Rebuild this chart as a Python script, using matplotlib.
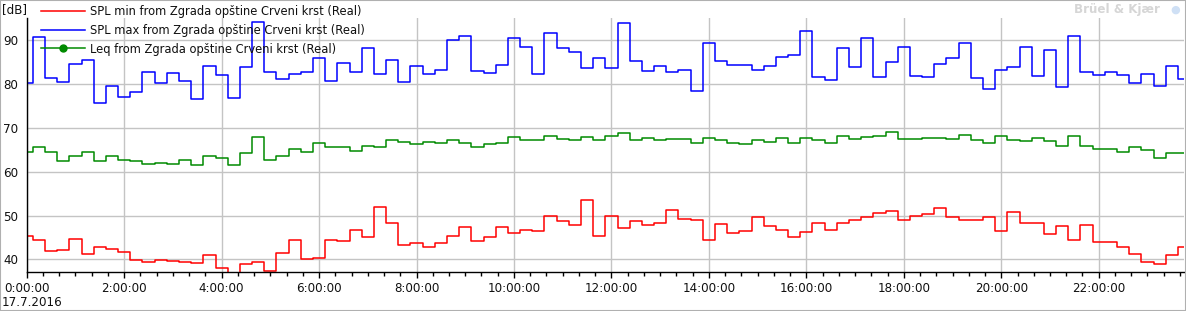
import numpy as np
import matplotlib
matplotlib.use("Agg")
import matplotlib.pyplot as plt
from matplotlib.lines import Line2D
from matplotlib.legend_handler import HandlerLine2D
from matplotlib.patches import Rectangle
from matplotlib.ticker import FixedLocator, MultipleLocator

# ---- data (15-minute samples, hours since 17.7.2016 0:00) ----
hours = np.arange(96) * 0.25

spl_max = [80.2, 90.7, 81.3, 80.4, 84.5, 85.4, 75.8, 79.5, 77.0, 78.2, 82.7, 80.2,
           82.5, 80.7, 76.5, 84.1, 82.0, 76.8, 83.8, 94.1, 82.8, 81.1, 82.3, 82.8,
           85.9, 80.7, 84.8, 82.8, 88.3, 82.3, 85.4, 80.5, 84.1, 82.2, 83.2, 90.0,
           91.0, 83.0, 82.5, 84.4, 90.5, 88.4, 82.2, 91.6, 88.2, 87.3, 83.6, 85.9,
           83.6, 93.9, 85.2, 82.9, 84.1, 82.7, 83.2, 78.4, 89.3, 85.2, 84.3, 84.3,
           83.2, 84.1, 86.1, 86.6, 92.1, 81.6, 80.9, 88.2, 83.8, 90.5, 81.6, 85.0,
           88.4, 81.8, 81.6, 84.5, 85.9, 89.3, 81.3, 78.8, 83.2, 83.8, 88.4, 81.8,
           87.9, 79.3, 91.1, 82.7, 82.0, 82.7, 82.0, 80.2, 82.2, 79.5, 84.1, 81.1]

leq = [64.4, 65.6, 64.4, 62.5, 63.5, 64.4, 62.4, 63.7, 62.6, 62.4, 61.7, 62.1,
       61.7, 62.6, 61.5, 63.5, 63.1, 61.5, 64.2, 67.9, 62.6, 63.5, 65.3, 64.4,
       66.5, 65.6, 65.6, 64.7, 65.8, 65.6, 67.2, 66.7, 66.3, 66.7, 66.5, 67.2,
       66.5, 65.6, 66.3, 66.5, 67.9, 67.2, 67.2, 68.1, 67.4, 67.2, 67.9, 67.2,
       68.1, 68.8, 67.2, 67.6, 67.2, 67.4, 67.4, 66.5, 67.6, 67.2, 66.5, 66.3,
       67.2, 66.7, 67.6, 66.5, 67.6, 67.2, 66.5, 68.1, 67.4, 67.9, 68.1, 69.0,
       67.4, 67.4, 67.6, 67.6, 67.4, 68.3, 67.2, 66.5, 68.1, 67.2, 66.9, 67.6,
       66.9, 65.8, 68.1, 65.8, 65.3, 65.1, 64.4, 65.6, 64.9, 63.1, 64.2, 64.2]

spl_min = [45.3, 44.3, 41.8, 42.1, 44.6, 41.1, 42.7, 42.3, 41.6, 39.8, 39.3, 39.8,
           39.5, 39.3, 39.1, 40.9, 37.9, 36.5, 38.9, 39.3, 37.3, 41.4, 44.3, 40.0,
           40.2, 44.3, 44.1, 46.8, 45.0, 51.9, 48.2, 43.2, 43.7, 42.7, 43.7, 45.3,
           47.3, 44.1, 45.0, 47.3, 45.9, 46.8, 46.4, 50.0, 48.7, 47.8, 53.5, 45.3,
           49.8, 47.1, 48.7, 47.8, 48.2, 51.2, 49.1, 48.9, 44.4, 48.0, 45.9, 46.4,
           49.6, 47.5, 46.8, 45.0, 46.2, 48.4, 46.6, 48.2, 48.9, 49.6, 50.5, 51.0,
           48.9, 50.0, 50.3, 51.6, 49.6, 48.9, 48.9, 49.6, 46.4, 50.7, 48.4, 48.4,
           45.7, 47.5, 44.3, 47.8, 43.9, 43.9, 42.7, 41.1, 39.3, 38.9, 40.9, 42.7]

labels = ["SPL min from Zgrada opštine Crveni krst (Real)",
          "SPL max from Zgrada opštine Crveni krst (Real)",
          "Leq from Zgrada opštine Crveni krst (Real)"]
y_ticks = [40, 50, 60, 70, 80, 90]
x_ticks = list(range(0, 24, 2))
x_ticklabels = [f"{h}:00:00" for h in x_ticks]
date_label = "17.7.2016"

plt.rcParams['font.family'] = ['DejaVu Sans']

W, H = 1186, 311
fig = plt.figure(figsize=(W / 100, H / 100), dpi=100)
ax = fig.add_axes([26.7 / W, 1 - 272.3 / H, (1184 - 26.7) / W, (272.3 - 18) / H])

l_min, = ax.step(hours, spl_min, where='mid', color='#ff0000', lw=1.1, label=labels[0])
l_max, = ax.step(hours, spl_max, where='mid', color='#0000ff', lw=1.1, label=labels[1])
l_leq, = ax.step(hours, leq, where='mid', color='#008a00', lw=1.1, label=labels[2])

ax.set_xlim(0, 23.75)
ax.set_ylim(37.03, 95.1)

ax.xaxis.set_major_locator(FixedLocator(x_ticks))
ax.set_xticklabels(x_ticklabels)
ax.xaxis.set_minor_locator(MultipleLocator(1 / 3))
ax.set_yticks(y_ticks)
ax.set_yticklabels([str(v) for v in y_ticks])

ax.grid(True, which='major', color='#c4c4c4', lw=1.0)
ax.set_axisbelow(True)
for s in ['top', 'right']:
    ax.spines[s].set_visible(False)
for s in ['left', 'bottom']:
    ax.spines[s].set_color('black')
    ax.spines[s].set_linewidth(1.0)

ax.tick_params(axis='x', which='major', length=4, width=1, direction='out',
               labelsize=8.6, pad=3, colors='black', labelcolor='#101010')
ax.tick_params(axis='x', which='minor', length=3, width=1, direction='out', colors='black')
ax.tick_params(axis='y', which='major', length=0, labelsize=8.6, pad=6, labelcolor='#101010')


class LeftMarkerHandler(HandlerLine2D):
    def get_xdata(self, legend, xdescent, ydescent, width, height, fontsize):
        xdata, _ = super().get_xdata(legend, xdescent, ydescent, width, height, fontsize)
        return xdata, [xdata[0] + 1.5]


leg_leq = Line2D([], [], color='#008a00', lw=1.1, marker='o', markersize=5,
                 markerfacecolor='#008a00', markeredgecolor='#008a00')
leg = ax.legend([l_min, l_max, leg_leq], labels, loc='upper left',
                bbox_to_anchor=(41 / W, 1 - 5 / H), bbox_transform=fig.transFigure,
                frameon=False, fontsize=8.3, handlelength=3.8, handletextpad=0.43,
                labelspacing=0.5, borderaxespad=0, borderpad=0,
                handler_map={leg_leq: LeftMarkerHandler()})
for t in leg.get_texts():
    t.set_color('#101010')

fig.text(2 / W, 1 - 10 / H, "[dB]", fontsize=8.6, va='center', ha='left', color='#101010')
fig.text(2 / W, 1 - 302 / H, date_label, fontsize=8.6, va='center', ha='left', color='#101010')
fig.text(1160 / W, 1 - 10 / H, "Brüel & Kjær", fontsize=8.6, fontweight='bold',
         va='center', ha='right', color='#d6d6d6')
fig.text(1175 / W, 1 - 10 / H, "●", fontsize=8, va='center', ha='center', color='#cfe0f5')

fig.add_artist(Rectangle((0, 0), 1, 1, transform=fig.transFigure, fill=False,
                         edgecolor='#b0b0b0', lw=1.5))

fig.savefig("out.png", dpi=100)
